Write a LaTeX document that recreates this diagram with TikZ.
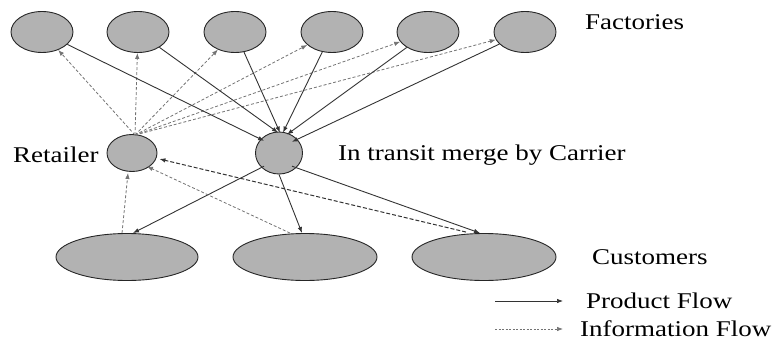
\documentclass[tikz,border=0pt]{standalone}
\usepackage{fontspec}
\setmainfont{Liberation Serif}
\usetikzlibrary{shapes.geometric,arrows.meta,calc}
\definecolor{nodefill}{RGB}{178,178,178}
\begin{document}
\begin{tikzpicture}[x=1pt,y=-1pt,
  blob/.style={ellipse,draw=black!85,line width=0.9pt,fill=nodefill,inner sep=0pt},
  lbl/.style={anchor=west,inner sep=0pt,font=\fontsize{22.5}{24}\selectfont},
  prod/.style={draw=black!80,line width=0.9pt,-{Latex[length=6pt,width=4.5pt]}},
  info/.style={draw=black!55,line width=0.8pt,dash pattern=on 3pt off 2pt,-{Latex[length=6pt,width=4.5pt]}},
  infodark/.style={draw=black!80,line width=1pt,dash pattern=on 4pt off 2pt,-{Latex[length=6pt,width=4.5pt]}}]
\useasboundingbox (0,0) rectangle (775,342);
% factories
\foreach \n/\x in {1/42,2/138,3/235,4/332,5/428,6/525}
  \node[blob,minimum width=62pt,minimum height=41pt] (F\n) at (\x,32) {};
\node[blob,minimum width=50pt,minimum height=37pt] (R) at (132,153) {};
\node[blob,minimum width=47pt,minimum height=42pt] (K) at (279,153) {};
\node[blob,minimum width=142pt,minimum height=47pt] (C1) at (127,257) {};
\node[blob,minimum width=144pt,minimum height=47pt] (C2) at (305,257) {};
\node[blob,minimum width=144pt,minimum height=47pt] (C3) at (484,257) {};
% labels
\node[lbl] (tF) at (585,22) {\scalebox{1.2}[1]{Factories}};
\node[lbl] (tR) at (13,155) {\scalebox{1.2}[1]{Retailer}};
\node[lbl] (tK) at (338,155) {\scalebox{1.2}[1]{In transit merge by Carrier}};
\node[lbl] (tC) at (592,257) {\scalebox{1.2}[1]{Customers}};
\node[lbl] (tP) at (586,301) {\scalebox{1.2}[1]{Product Flow}};
\node[lbl] (tI) at (580,329) {\scalebox{1.2}[1]{Information Flow}};
% anchor coordinates
\coordinate (Rt) at ($(R.north)+(3,1)$);
\coordinate (Kt) at ($(K.north)+(1,1)$);
% info: retailer -> factories
\foreach \n in {1,...,6}
  \draw[info] (Rt) -- (F\n);
% product: factories -> carrier
\draw[prod] (F1) -- ($(K.north west)+(2,3)$);
\draw[prod] (F2) -- ($(Kt)+(-2,0)$);
\draw[prod] (F3) -- (Kt);
\draw[prod] (F4) -- ($(Kt)+(3,0)$);
\draw[prod] (F5) -- ($(Kt)+(7,2)$);
\draw[prod] (F6) -- ($(K.north east)+(-4,4)$);
% product: carrier -> customers
\draw[prod] ($(K.south west)+(2,-2)$) -- ($(C1.north)+(6,0)$);
\draw[prod] (K.south) -- ($(C2.north)+(-3,0)$);
\draw[prod] ($(K.south east)+(-4,-2)$) -- ($(C3.north)+(-4,0)$);
% info: customers -> retailer
\draw[info] ($(C1.north)+(-5,0)$) -- ($(R.south)+(-4,1)$);
\draw[info] ($(C2.north)+(-15,0)$) -- ($(R.south east)+(-3,0)$);
\draw[infodark] ($(C3.north)+(-18,-1)$) -- ($(R.east)+(2,6)$);
% legend
\coordinate (lp1) at (495,301);
\coordinate (lp2) at (563,301);
\coordinate (li1) at (495,329);
\coordinate (li2) at (563,329);
\draw[prod,line width=0.7pt] (lp1) -- (lp2);
\draw[info,line width=0.7pt,dash pattern=on 2pt off 1.5pt] (li1) -- (li2);
\end{tikzpicture}
\end{document}
